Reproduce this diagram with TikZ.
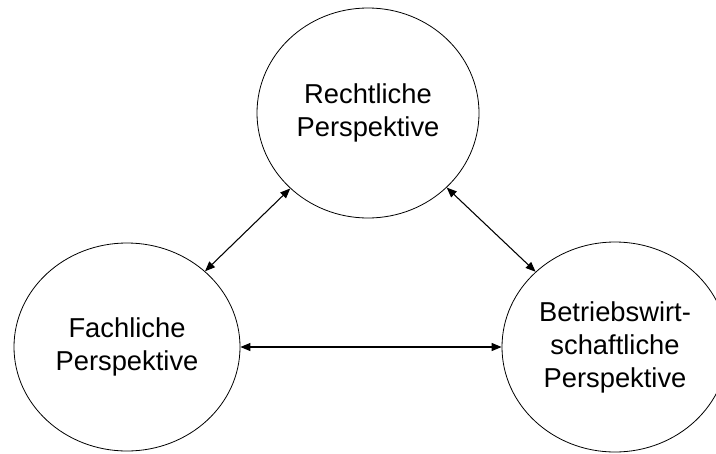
\documentclass[tikz,border=0pt]{standalone}
\usepackage{fontspec}
\setmainfont{Liberation Sans}
\usetikzlibrary{shapes.geometric,arrows.meta}
\begin{document}
\begin{tikzpicture}[x=0.75pt,y=-0.75pt,
  persp/.style={draw,ellipse,line width=0.6pt,inner sep=0pt,align=center,
    font=\fontsize{20.5}{24.75}\selectfont},
  link/.style={{Triangle[length=7.5pt,width=6pt]}-{Triangle[length=7.5pt,width=6pt]},line width=0.8pt}]
  \clip (0,0) rectangle (716,453);
  \fill[white] (0,0) rectangle (716,453);
  \node[persp,minimum width=166.5pt,minimum height=157.5pt] (recht) at (368,113) {Rechtliche\\Perspektive};
  \node[persp,minimum width=169.5pt,minimum height=156pt] (fach) at (127,347) {Fachliche\\Perspektive};
  \node[persp,minimum width=169.5pt,minimum height=157.5pt] (bwl) at (615,347) {Betriebswirt-\\schaftliche\\Perspektive};
  \draw[link] (recht) -- (fach);
  \draw[link] (recht) -- (bwl);
  \draw[link] (fach) -- (bwl);
\end{tikzpicture}
\end{document}
